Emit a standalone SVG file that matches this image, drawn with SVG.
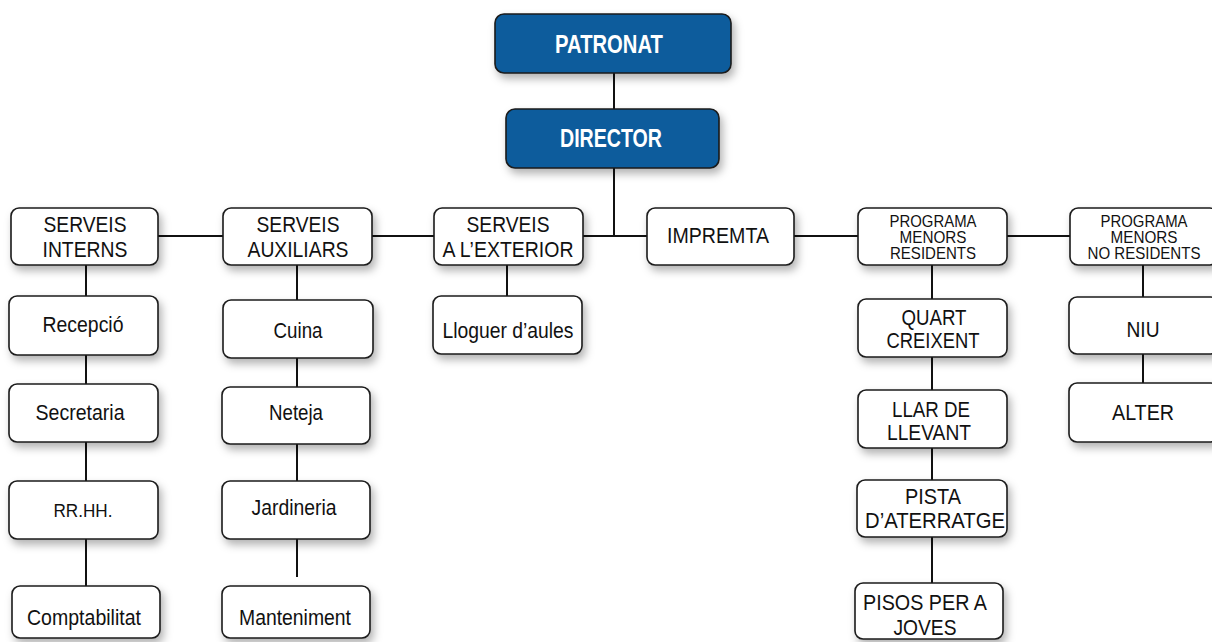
<svg xmlns="http://www.w3.org/2000/svg" width="1212" height="642" viewBox="0 0 1212 642">
<defs>
<filter id="sh" x="-20%" y="-20%" width="150%" height="160%">
<feDropShadow dx="3" dy="5" stdDeviation="4" flood-color="#000" flood-opacity="0.3"/>
</filter>
<style>
.b{fill:#fff;stroke:#1a1a1a;stroke-width:1.6;filter:url(#sh)}
.blue{fill:#0b5b9c;stroke:#1a1a1a;stroke-width:1.6;filter:url(#sh)}
text{font-family:"Liberation Sans",Arial,sans-serif;text-anchor:middle;fill:#111}
.t{font-size:21.5px}
.s{font-size:16.5px}
.r{font-size:18px}
.w{font-size:25px;font-weight:bold;fill:#fff}
.c line{stroke:#111;stroke-width:2}
</style>
</defs>
<g class="c" id="connectors">
<line x1="614" y1="73" x2="614" y2="109"/>
<line x1="614" y1="168" x2="614" y2="236"/>
<line x1="158" y1="236" x2="1070" y2="236"/>
<line x1="86" y1="265" x2="86" y2="586"/>
<line x1="297" y1="265" x2="297" y2="577"/>
<line x1="507" y1="265" x2="507" y2="296"/>
<line x1="932" y1="265" x2="932" y2="583"/>
<line x1="1143" y1="265" x2="1143" y2="383"/>
</g>
<g id="patronat"><rect class="blue" x="495" y="14" width="236" height="59" rx="9"/><text class="w" x="609" y="53" textLength="108" lengthAdjust="spacingAndGlyphs">PATRONAT</text></g>
<g id="director"><rect class="blue" x="506" y="109" width="213" height="59" rx="9"/><text class="w" x="611" y="147" textLength="102" lengthAdjust="spacingAndGlyphs">DIRECTOR</text></g>
<g id="serveis-interns"><rect class="b" x="11" y="208" width="147" height="57" rx="8"/><text class="t" x="85" y="232" textLength="83" lengthAdjust="spacingAndGlyphs">SERVEIS</text><text class="t" x="85" y="257" textLength="85" lengthAdjust="spacingAndGlyphs">INTERNS</text></g>
<g id="serveis-auxiliars"><rect class="b" x="223" y="208" width="149" height="57" rx="8"/><text class="t" x="298" y="232" textLength="83" lengthAdjust="spacingAndGlyphs">SERVEIS</text><text class="t" x="298" y="257" textLength="101" lengthAdjust="spacingAndGlyphs">AUXILIARS</text></g>
<g id="serveis-exterior"><rect class="b" x="434" y="208" width="149" height="57" rx="8"/><text class="t" x="508" y="232" textLength="83" lengthAdjust="spacingAndGlyphs">SERVEIS</text><text class="t" x="508" y="257" textLength="131" lengthAdjust="spacingAndGlyphs">A L’EXTERIOR</text></g>
<g id="impremta"><rect class="b" x="647" y="208" width="147" height="57" rx="8"/><text class="t" x="718" y="243" textLength="102" lengthAdjust="spacingAndGlyphs">IMPREMTA</text></g>
<g id="prog-residents"><rect class="b" x="858" y="208" width="149" height="57" rx="8"/><text class="s" x="933" y="227" textLength="87" lengthAdjust="spacingAndGlyphs">PROGRAMA</text><text class="s" x="933" y="243" textLength="67" lengthAdjust="spacingAndGlyphs">MENORS</text><text class="s" x="933" y="259" textLength="86" lengthAdjust="spacingAndGlyphs">RESIDENTS</text></g>
<g id="prog-no-residents"><rect class="b" x="1070" y="208" width="148" height="57" rx="8"/><text class="s" x="1144" y="227" textLength="87" lengthAdjust="spacingAndGlyphs">PROGRAMA</text><text class="s" x="1144" y="243" textLength="67" lengthAdjust="spacingAndGlyphs">MENORS</text><text class="s" x="1144" y="259" textLength="113" lengthAdjust="spacingAndGlyphs">NO RESIDENTS</text></g>
<g id="recepcio"><rect class="b" x="9" y="296" width="149" height="59" rx="8"/><text class="t" x="83" y="332" textLength="81" lengthAdjust="spacingAndGlyphs">Recepció</text></g>
<g id="secretaria"><rect class="b" x="9" y="384" width="149" height="58" rx="8"/><text class="t" x="80" y="420" textLength="89" lengthAdjust="spacingAndGlyphs">Secretaria</text></g>
<g id="rrhh"><rect class="b" x="9" y="481" width="149" height="58" rx="8"/><text class="r" x="83" y="517" textLength="59" lengthAdjust="spacingAndGlyphs">RR.HH.</text></g>
<g id="comptabilitat"><rect class="b" x="12" y="586" width="148" height="52" rx="8"/><text class="t" x="84" y="625" textLength="114" lengthAdjust="spacingAndGlyphs">Comptabilitat</text></g>
<g id="cuina"><rect class="b" x="223" y="300" width="150" height="58" rx="8"/><text class="t" x="298" y="338" textLength="49" lengthAdjust="spacingAndGlyphs">Cuina</text></g>
<g id="neteja"><rect class="b" x="222" y="387" width="148" height="57" rx="8"/><text class="t" x="296" y="420" textLength="54" lengthAdjust="spacingAndGlyphs">Neteja</text></g>
<g id="jardineria"><rect class="b" x="222" y="481" width="148" height="58" rx="8"/><text class="t" x="294" y="515" textLength="85" lengthAdjust="spacingAndGlyphs">Jardineria</text></g>
<g id="manteniment"><rect class="b" x="222" y="586" width="148" height="52" rx="8"/><text class="t" x="295" y="625" textLength="112" lengthAdjust="spacingAndGlyphs">Manteniment</text></g>
<g id="lloguer"><rect class="b" x="433" y="296" width="149" height="58" rx="8"/><text class="t" x="508" y="338" textLength="131" lengthAdjust="spacingAndGlyphs">Lloguer d’aules</text></g>
<g id="quart"><rect class="b" x="858" y="299" width="149" height="58" rx="8"/><text class="t" x="934" y="325" textLength="65" lengthAdjust="spacingAndGlyphs">QUART</text><text class="t" x="933" y="348" textLength="93" lengthAdjust="spacingAndGlyphs">CREIXENT</text></g>
<g id="llar"><rect class="b" x="858" y="390" width="149" height="58" rx="8"/><text class="t" x="931" y="417" textLength="78" lengthAdjust="spacingAndGlyphs">LLAR DE</text><text class="t" x="929" y="440" textLength="84" lengthAdjust="spacingAndGlyphs">LLEVANT</text></g>
<g id="pista"><rect class="b" x="857" y="480" width="150" height="57" rx="8"/><text class="t" x="933" y="504" textLength="56" lengthAdjust="spacingAndGlyphs">PISTA</text><text class="t" x="935" y="528" textLength="140" lengthAdjust="spacingAndGlyphs">D’ATERRATGE</text></g>
<g id="pisos"><rect class="b" x="855" y="583" width="148" height="56" rx="8"/><text class="t" x="925" y="610" textLength="124" lengthAdjust="spacingAndGlyphs">PISOS PER A</text><text class="t" x="925" y="635" textLength="63" lengthAdjust="spacingAndGlyphs">JOVES</text></g>
<g id="niu"><rect class="b" x="1069" y="297" width="150" height="57" rx="8"/><text class="t" x="1143" y="337" textLength="33" lengthAdjust="spacingAndGlyphs">NIU</text></g>
<g id="alter"><rect class="b" x="1069" y="383" width="150" height="59" rx="8"/><text class="t" x="1143" y="420" textLength="62" lengthAdjust="spacingAndGlyphs">ALTER</text></g>
</svg>
